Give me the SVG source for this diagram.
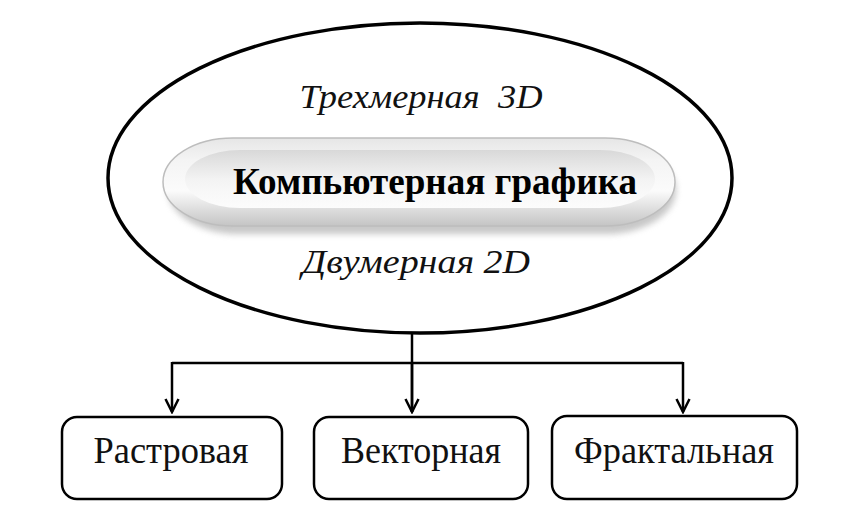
<svg xmlns="http://www.w3.org/2000/svg" width="849" height="519" viewBox="0 0 849 519">
  <defs>
    <style>
      .box { fill: #ffffff; stroke: #000000; stroke-width: 2.5; }
      .lbl { font-family: "Liberation Serif", "Times New Roman", serif; font-size: 37px; fill: #111; text-anchor: middle; }
      .ital { font-family: "Liberation Serif", "Times New Roman", serif; font-size: 34px; font-style: italic; fill: #111; text-anchor: middle; }
      .conn { fill: none; stroke: #000; stroke-width: 2.5; }
    </style>
    <marker id="arr" viewBox="0 0 16 16" refX="14" refY="8" markerWidth="16" markerHeight="16" markerUnits="userSpaceOnUse" orient="auto">
      <path d="M1,1.5 L14,8 L1,14.5" fill="none" stroke="#000" stroke-width="2.5"/>
    </marker>
    <linearGradient id="pillG" x1="0" y1="0" x2="0" y2="1">
      <stop offset="0" stop-color="#e6e6e6"/>
      <stop offset="0.25" stop-color="#f4f4f4"/>
      <stop offset="0.6" stop-color="#fbfbfb"/>
      <stop offset="0.85" stop-color="#d8d8d8"/>
      <stop offset="1" stop-color="#c4c4c4"/>
    </linearGradient>
    <linearGradient id="pillIn" x1="0" y1="0" x2="0" y2="1">
      <stop offset="0" stop-color="#d6d6d6"/>
      <stop offset="0.5" stop-color="#f2f2f2"/>
      <stop offset="1" stop-color="#ffffff"/>
    </linearGradient>
    <filter id="sh" x="-10%" y="-30%" width="120%" height="170%">
      <feGaussianBlur stdDeviation="3"/>
    </filter>
  </defs>

  <rect width="849" height="519" fill="#ffffff"/>

  <g id="main-ellipse">
    <ellipse cx="420" cy="178" rx="312" ry="155" fill="none" stroke="#000" stroke-width="3.5"/>
    <text class="ital" x="421" y="108" textLength="243" lengthAdjust="spacingAndGlyphs">Трехмерная&#160; 3D</text>
    <text class="ital" x="416" y="273" textLength="228" lengthAdjust="spacingAndGlyphs">Двумерная 2D</text>
  </g>

  <g id="pill">
    <rect x="168" y="146" width="508" height="88" rx="70" ry="44" fill="#9a9a9a" opacity="0.55" filter="url(#sh)"/>
    <rect x="163" y="138" width="512" height="88" rx="70" ry="44" fill="url(#pillG)" stroke="#bdbdbd" stroke-width="1.5"/>
    <rect x="185" y="150" width="470" height="58" rx="55" ry="29" fill="url(#pillIn)" opacity="0.9"/>
    <text x="435" y="194" font-family="'Liberation Serif', 'Times New Roman', serif" font-size="37" font-weight="bold" fill="#000" text-anchor="middle" textLength="404" lengthAdjust="spacingAndGlyphs">Компьютерная графика</text>
  </g>

  <g id="connectors">
    <path class="conn" d="M412,333 L412,412"/>
    <path class="conn" d="M172,363 L683,363"/>
    <path class="conn" d="M172,362 L172,412" marker-end="url(#arr)"/>
    <path class="conn" d="M412,362 L412,412" marker-end="url(#arr)"/>
    <path class="conn" d="M683,362 L683,412" marker-end="url(#arr)"/>
  </g>

  <g id="node-raster">
    <rect class="box" x="62" y="417" width="220" height="82" rx="15"/>
    <text class="lbl" x="171" y="463" textLength="155" lengthAdjust="spacingAndGlyphs">Растровая</text>
  </g>
  <g id="node-vector">
    <rect class="box" x="314" y="417" width="214" height="82" rx="15"/>
    <text class="lbl" x="421" y="463" textLength="160" lengthAdjust="spacingAndGlyphs">Векторная</text>
  </g>
  <g id="node-fractal">
    <rect class="box" x="552" y="416" width="245" height="83" rx="15" stroke-width="3.5"/>
    <text class="lbl" x="674" y="463" textLength="200" lengthAdjust="spacingAndGlyphs">Фрактальная</text>
  </g>
</svg>
